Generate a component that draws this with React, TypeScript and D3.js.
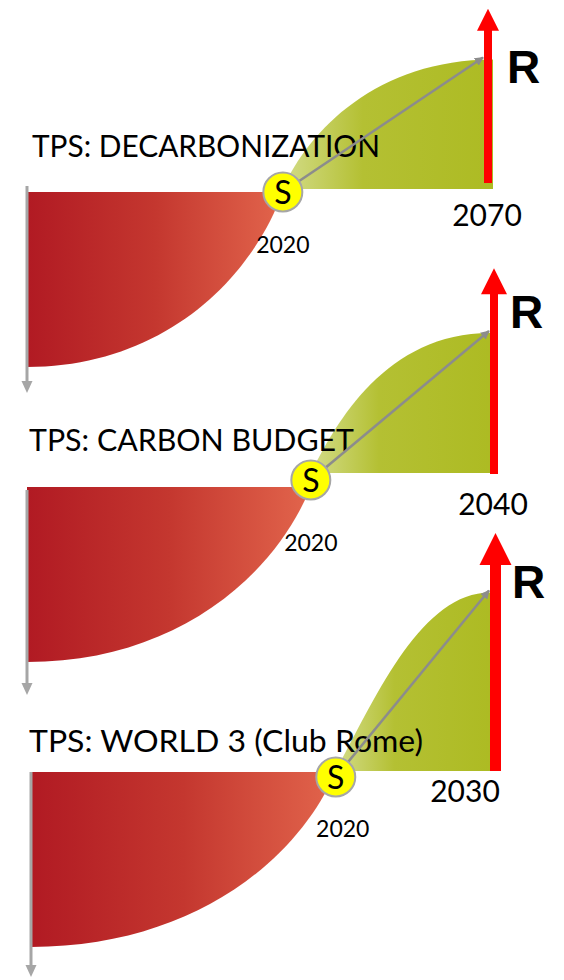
import React from "react";
import * as d3 from "d3";

// ---- data ----
const titles = ["TPS: DECARBONIZATION", "TPS: CARBON BUDGET", "TPS: WORLD 3 (Club Rome)"];
const startYears = ["2020", "2020", "2020"];
const targetYears = ["2070", "2040", "2030"];
const peakLabels = ["R", "R", "R"];
const tipLabels = ["S", "S", "S"];
// share of each panel's timeline that lies before the tipping point S
const tippingShare = [0.549, 0.613, 0.664];
// levels (100 = full decline depth)
const declineDepth = [100, 100, 100];
const riseHeight = [74, 80, 102];
const reboundHeight = [103, 117, 136];

// decline curve as cubic Bezier control points, normalized:
// u = share of time (axis -> S), v = share of recovery (bottom -> top)
const declineU = [0, 0.5, 0.86, 1];
const declineV = [0, 0, 0.45, 1];

// rise curves as cubic Bezier control points, normalized:
// u = share of time (S -> target year), v = share of rise
const riseU1 = [0, 0.12, 0.45, 1];
const riseV1 = [0, 0.45, 1, 1];
const riseU2 = [0, 0.14, 0.42, 1];
const riseV2 = [0, 0.36, 1, 1];
const riseU3 = [0, 0.25, 0.55, 1];
const riseV3 = [0, 0.4, 1, 1];
const riseUs = [riseU1, riseU2, riseU3];
const riseVs = [riseV1, riseV2, riseV3];

// ---- layout (pixels) ----
const layout = [
  { sY: 192, redTop: 192, greenBase: 189, axisX: 27, rightX: 493, axisTop: 186, axisTip: 393,
    arrowX: 488, arrowBottom: 183, shaftW: 8, headW: 22, headH: 22,
    titleX: 32, titleY: 157, titleW: 348, startDx: 0, startY: 253, endX: 487, endY: 226, rX: 507, rY: 83 },
  { sY: 480, redTop: 487, greenBase: 473, axisX: 27, rightX: 490, axisTop: 490, axisTip: 695,
    arrowX: 494, arrowBottom: 474, shaftW: 8, headW: 26, headH: 26,
    titleX: 29, titleY: 451, titleW: 325, startDx: 0, startY: 551, endX: 493, endY: 515, rX: 510, rY: 328 },
  { sY: 777, redTop: 772, greenBase: 771, axisX: 31, rightX: 490, axisTop: 772, axisTip: 977,
    arrowX: 495.5, arrowBottom: 771, shaftW: 11, headW: 32, headH: 32,
    titleX: 29, titleY: 752, titleW: 394, startDx: 7, startY: 837, endX: 465, endY: 802, rX: 512, rY: 598 },
];

const TEXT_FONT = "Lato, 'Open Sans', sans-serif";
const R_FONT = "'Liberation Sans', Arial, sans-serif";

function Panel({ i }: { i: number }) {
  const L = layout[i];
  const lvl = d3.scaleLinear().domain([0, 100]).range([0, 175]);
  const x = d3.scaleLinear().domain([0, 1]).range([L.axisX, L.rightX]);
  const sX = x(tippingShare[i]);

  // decline (red) area
  const redX = d3.scaleLinear().domain([0, 1]).range([L.axisX, sX]);
  const depth = lvl(declineDepth[i]);
  const redBottom = L.redTop + depth;
  const redY = d3.scaleLinear().domain([0, 1]).range([redBottom, L.redTop]);
  const red = d3.path();
  red.moveTo(L.axisX, L.redTop);
  red.lineTo(redX(declineU[0]), redY(declineV[0]));
  red.bezierCurveTo(
    redX(declineU[1]), redY(declineV[1]),
    redX(declineU[2]), redY(declineV[2]),
    redX(declineU[3]), redY(declineV[3])
  );
  red.closePath();

  // rise (green) area
  const gX = d3.scaleLinear().domain([0, 1]).range([sX, L.rightX]);
  const rise = lvl(riseHeight[i]);
  const greenTop = L.greenBase - rise;
  const gY = d3.scaleLinear().domain([0, 1]).range([L.greenBase, greenTop]);
  const uArr = riseUs[i];
  const vArr = riseVs[i];
  const green = d3.path();
  green.moveTo(gX(uArr[0]), gY(vArr[0]));
  green.bezierCurveTo(gX(uArr[1]), gY(vArr[1]), gX(uArr[2]), gY(vArr[2]), gX(uArr[3]), gY(vArr[3]));
  green.lineTo(gX(1), gY(0));
  green.closePath();

  // red arrow
  const tipY = L.greenBase - lvl(reboundHeight[i]);
  const headBase = tipY + L.headH;
  const ax = L.arrowX;
  const arrowPath = d3.path();
  arrowPath.moveTo(ax - L.shaftW / 2, L.arrowBottom);
  arrowPath.lineTo(ax - L.shaftW / 2, headBase);
  arrowPath.lineTo(ax - L.headW / 2, headBase);
  arrowPath.lineTo(ax, tipY);
  arrowPath.lineTo(ax + L.headW / 2, headBase);
  arrowPath.lineTo(ax + L.shaftW / 2, headBase);
  arrowPath.lineTo(ax + L.shaftW / 2, L.arrowBottom);
  arrowPath.closePath();

  // gray axis arrow head
  const axHead = d3.path();
  axHead.moveTo(L.axisX - 5.5, L.axisTip - 12);
  axHead.lineTo(L.axisX + 5.5, L.axisTip - 12);
  axHead.lineTo(L.axisX, L.axisTip);
  axHead.closePath();

  // diagonal gray line from S to the top of the rise
  const lineEndX = ax - L.shaftW / 2 - 1;
  const lineEndY = greenTop - 2;

  return (
    <g>
      <path d={red.toString()} fill="url(#redGrad)" />
      <line x1={L.axisX} x2={L.axisX} y1={L.axisTop} y2={L.axisTip - 10} stroke="#A6A6A6" strokeWidth={3} />
      <path d={axHead.toString()} fill="#A6A6A6" />
      <path d={green.toString()} fill="url(#greenGrad)" />
      <text x={L.titleX} y={L.titleY} fontFamily={TEXT_FONT} fontSize={31} fill="#000"
        textLength={L.titleW} lengthAdjust="spacingAndGlyphs">{titles[i]}</text>
      <line x1={sX} y1={L.sY} x2={lineEndX} y2={lineEndY} stroke="#8C8C8C" strokeWidth={2.5}
        markerEnd="url(#grayHead)" />
      <path d={arrowPath.toString()} fill="#FF0000" />
      <circle cx={sX} cy={L.sY} r={19.5} fill="#FFFF00" stroke="#A6A6A6" strokeWidth={2} />
      <text x={sX} y={L.sY + 11.5} textAnchor="middle" fontFamily={TEXT_FONT} fontSize={32} fill="#000">{tipLabels[i]}</text>
      <text x={sX + L.startDx} y={L.startY} textAnchor="middle" fontFamily={TEXT_FONT} fontSize={23} fill="#000">{startYears[i]}</text>
      <text x={L.endX} y={L.endY} textAnchor="middle" fontFamily={TEXT_FONT} fontSize={30} fill="#000">{targetYears[i]}</text>
      <text x={L.rX} y={L.rY} fontFamily={R_FONT} fontWeight="bold" fontSize={46} fill="#000">{peakLabels[i]}</text>
    </g>
  );
}

export default function App() {
  return (
    <svg width={564} height={980} viewBox="0 0 564 980"
      style={{ position: "absolute", left: 0, top: 0, background: "#fff" }}>
      <defs>
        <linearGradient id="redGrad" x1="0" x2="1" y1="0" y2="0">
          <stop offset="0" stopColor="#B11A23" />
          <stop offset="0.5" stopColor="#C4372F" />
          <stop offset="1" stopColor="#E2654C" />
        </linearGradient>
        <linearGradient id="greenGrad" x1="0" x2="1" y1="0" y2="0">
          <stop offset="0" stopColor="#D3DC88" />
          <stop offset="0.38" stopColor="#B4C033" />
          <stop offset="1" stopColor="#ADBB23" />
        </linearGradient>
        <marker id="grayHead" viewBox="0 0 10 10" refX="9" refY="5" markerWidth="9" markerHeight="9"
          markerUnits="userSpaceOnUse" orient="auto">
          <path d="M0,0 L10,5 L0,10 z" fill="#8C8C8C" />
        </marker>
      </defs>
      {titles.map((_, i) => (
        <Panel key={i} i={i} />
      ))}
    </svg>
  );
}
